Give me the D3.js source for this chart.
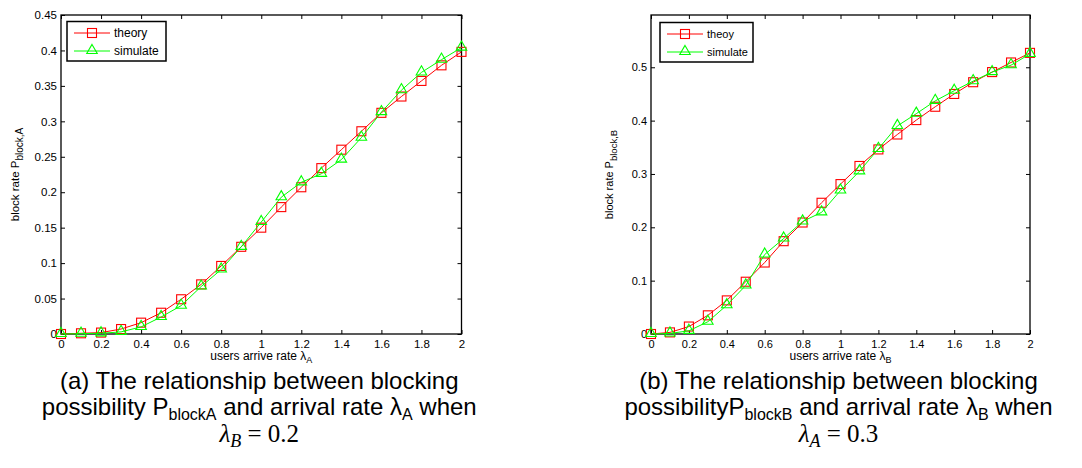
<!DOCTYPE html>
<meta charset="utf-8">
<script src="https://d3js.org/d3.v7.min.js"></script>
<style>
  body { margin: 0; background: #fff; }
  text { font-family: "Liberation Sans", Arial, sans-serif; fill: #000; }
</style>
<div id="chart"></div>
<script>

// arrival rate (x) for both panels
var rates = [0, 0.1, 0.2, 0.3, 0.4, 0.5, 0.6, 0.7, 0.8, 0.9, 1.0,
             1.1, 1.2, 1.3, 1.4, 1.5, 1.6, 1.7, 1.8, 1.9, 2.0];

// panel (a): blocking rate of A vs lambda_A
var theoryA   = [0, 0.001, 0.002, 0.007, 0.016, 0.030, 0.049, 0.070, 0.096, 0.123, 0.150,
                 0.179, 0.207, 0.234, 0.260, 0.286, 0.312, 0.335, 0.357, 0.379, 0.398];
var simulateA = [0, 0.0005, 0.001, 0.003, 0.010, 0.024, 0.040, 0.067, 0.091, 0.123, 0.158,
                 0.193, 0.214, 0.226, 0.246, 0.277, 0.313, 0.344, 0.369, 0.387, 0.404];

// panel (b): blocking rate of B vs lambda_B
var theoryB   = [0, 0.003, 0.014, 0.035, 0.063, 0.098, 0.134, 0.174, 0.209, 0.246, 0.281,
                 0.315, 0.346, 0.374, 0.401, 0.426, 0.450, 0.472, 0.491, 0.509, 0.527];
var simulateB = [0, 0.001, 0.006, 0.023, 0.054, 0.091, 0.149, 0.179, 0.211, 0.228, 0.269,
                 0.305, 0.347, 0.390, 0.413, 0.437, 0.456, 0.474, 0.491, 0.504, 0.525];

var xTicks = [0, 0.2, 0.4, 0.6, 0.8, 1, 1.2, 1.4, 1.6, 1.8, 2];
var xTickLabels = ["0", "0.2", "0.4", "0.6", "0.8", "1", "1.2", "1.4", "1.6", "1.8", "2"];
var yTicksA = [0, 0.05, 0.1, 0.15, 0.2, 0.25, 0.3, 0.35, 0.4, 0.45];
var yTickLabelsA = ["0", "0.05", "0.1", "0.15", "0.2", "0.25", "0.3", "0.35", "0.4", "0.45"];
var yTicksB = [0, 0.1, 0.2, 0.3, 0.4, 0.5];
var yTickLabelsB = ["0", "0.1", "0.2", "0.3", "0.4", "0.5"];

var seriesNamesA = ["theory", "simulate"];
var seriesNamesB = ["theoy", "simulate"];
var colors = ["#ff0000", "#00ff00"];

var svg = d3.select("#chart")
  .append("svg")
    .attr("width", 1082)
    .attr("height", 468);

function drawPanel(p) {
  var x = d3.scaleLinear().domain([0, 2]).range([p.left, p.right]);
  var y = d3.scaleLinear().domain(p.yDomain).range([p.bottom, p.top]);
  var g = svg.append("g");

  // ticks inside the box, labels left / bottom
  g.append("g")
    .attr("transform", "translate(0," + p.bottom + ")")
    .call(d3.axisBottom(x).tickValues(xTicks).tickSizeInner(-4).tickSizeOuter(0).tickPadding(6)
      .tickFormat(function(d, i) { return xTickLabels[i]; }));
  g.append("g")
    .attr("transform", "translate(0," + p.top + ")")
    .call(d3.axisTop(x).tickValues(xTicks).tickSizeInner(-4).tickSizeOuter(0).tickFormat(""));
  g.append("g")
    .attr("transform", "translate(" + p.left + ",0)")
    .call(d3.axisLeft(y).tickValues(p.yTicks).tickSizeInner(-4).tickSizeOuter(0).tickPadding(4)
      .tickFormat(function(d, i) { return p.yLabels[i]; }));
  g.append("g")
    .attr("transform", "translate(" + p.right + ",0)")
    .call(d3.axisRight(y).tickValues(p.yTicks).tickSizeInner(-4).tickSizeOuter(0).tickFormat(""));

  g.selectAll(".domain").remove();
  g.selectAll(".tick line").attr("stroke", "#000");
  g.selectAll(".tick text")
    .style("font-family", "Liberation Sans, Arial, sans-serif")
    .style("font-size", p.tickFont + "px")
    .attr("fill", "#262626");

  g.append("rect")
    .attr("x", p.left).attr("y", p.top)
    .attr("width", p.right - p.left).attr("height", p.bottom - p.top)
    .attr("fill", "none").attr("stroke", "#000").attr("stroke-width", 1.3);

  var series = [p.theory, p.simulate];
  var line = d3.line()
    .x(function(d, i) { return x(rates[i]); })
    .y(function(d) { return y(d); });

  series.forEach(function(vals, s) {
    g.append("path")
      .datum(vals)
      .attr("d", line)
      .attr("fill", "none")
      .attr("stroke", colors[s])
      .attr("stroke-width", 1);
    drawMarkers(g, vals.map(function(v, i) { return [x(rates[i]), y(v)]; }), s);
  });

  // legend
  var lg = g.append("g");
  lg.append("rect")
    .attr("x", p.legend.x).attr("y", p.legend.y)
    .attr("width", p.legend.w).attr("height", p.legend.h)
    .attr("fill", "#fff").attr("stroke", "#000").attr("stroke-width", 1.5);
  p.names.forEach(function(name, s) {
    var ly = p.legend.y + 11.5 + s * 18;
    lg.append("line")
      .attr("x1", p.legend.x + 7).attr("x2", p.legend.x + 7 + p.legend.lineW)
      .attr("y1", ly).attr("y2", ly)
      .attr("stroke", colors[s]).attr("stroke-width", 1);
    drawMarkers(lg, [[p.legend.x + 7 + p.legend.lineW / 2, ly]], s);
    lg.append("text")
      .attr("x", p.legend.x + 11 + p.legend.lineW)
      .attr("y", ly + 4)
      .style("font-size", p.legendFont + "px")
      .attr("fill", "#262626")
      .text(name);
  });

  // axis titles
  var xt = g.append("text")
    .attr("x", (p.left + p.right) / 2)
    .attr("y", p.bottom + 26)
    .attr("text-anchor", "middle")
    .style("font-family", "Liberation Sans Narrow, Liberation Sans, Arial, sans-serif")
    .style("font-size", "12px")
    .attr("fill", "#262626");
  xt.append("tspan").text("users arrive rate λ");
  xt.append("tspan").attr("dy", 3).style("font-size", "9px").text(p.sub);

  var yt = g.append("text")
    .attr("transform", "translate(" + p.yTitleX + "," + ((p.top + p.bottom) / 2) + ") rotate(-90)")
    .attr("text-anchor", "middle")
    .style("font-size", p.tickFont + "px")
    .attr("fill", "#262626");
  yt.append("tspan").text("block rate P");
  yt.append("tspan").attr("dy", 4).style("font-size", (p.tickFont - 1.5) + "px").text("block," + p.sub);

  // caption
  var cx = (p.left + p.right) / 2 - 2;
  svg.append("text").attr("x", cx).attr("y", 389)
    .attr("text-anchor", "middle").style("font-size", "24px")
    .text(p.caption1);
  var c2 = svg.append("text").attr("x", cx).attr("y", 415)
    .attr("text-anchor", "middle").style("font-size", "24px");
  c2.append("tspan").text(p.caption2a);
  c2.append("tspan").attr("dy", 5).style("font-size", "16px").text("block" + p.sub);
  c2.append("tspan").attr("dy", -5).text(" and arrival rate λ");
  c2.append("tspan").attr("dy", 5).style("font-size", "16px").text(p.sub);
  c2.append("tspan").attr("dy", -5).text(" when");
  var c3 = svg.append("text").attr("x", cx).attr("y", 442)
    .attr("text-anchor", "middle")
    .style("font-family", "Liberation Serif, DejaVu Serif, serif")
    .style("font-size", "25px");
  c3.append("tspan").style("font-style", "italic").text("λ");
  c3.append("tspan").attr("dy", 5).style("font-style", "italic").style("font-size", "18px").text(p.other);
  c3.append("tspan").attr("dy", -5).text(" = " + p.otherVal);
}

function drawMarkers(g, pts, s) {
  if (s === 0) {
    g.selectAll(null).data(pts).enter().append("rect")
      .attr("x", function(d) { return d[0] - 4.5; })
      .attr("y", function(d) { return d[1] - 4.5; })
      .attr("width", 9).attr("height", 9)
      .attr("fill", "none").attr("stroke", colors[0]).attr("stroke-width", 1.1);
  } else {
    var tri = d3.symbol().type(d3.symbolTriangle).size(48);
    g.selectAll(null).data(pts).enter().append("path")
      .attr("d", tri)
      .attr("transform", function(d) { return "translate(" + d[0] + "," + (d[1] - 0.5) + ")"; })
      .attr("fill", "none").attr("stroke", colors[1]).attr("stroke-width", 1.1);
  }
}

drawPanel({
  left: 61, right: 461.5, top: 15, bottom: 334,
  yDomain: [0, 0.45], yTicks: yTicksA, yLabels: yTickLabelsA,
  theory: theoryA, simulate: simulateA, names: seriesNamesA,
  tickFont: 11.5, legendFont: 12,
  legend: {x: 67, y: 21.5, w: 99, h: 39.5, lineW: 36},
  sub: "A", yTitleX: 19,
  caption1: "(a) The relationship between blocking",
  caption2a: "possibility P",
  other: "B", otherVal: "0.2"
});

drawPanel({
  left: 651, right: 1030, top: 15, bottom: 334,
  yDomain: [0, 0.598], yTicks: yTicksB, yLabels: yTickLabelsB,
  theory: theoryB, simulate: simulateB, names: seriesNamesB,
  tickFont: 11, legendFont: 11,
  legend: {x: 660, y: 22.5, w: 93, h: 39.5, lineW: 36},
  sub: "B", yTitleX: 613,
  caption1: "(b) The relationship between blocking",
  caption2a: "possibilityP",
  other: "A", otherVal: "0.3"
});

</script>
